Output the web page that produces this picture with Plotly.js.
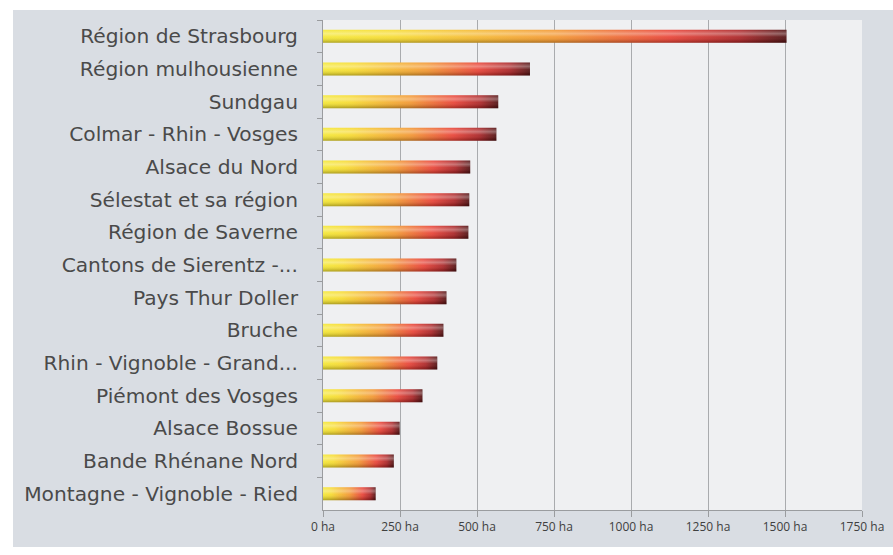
<!DOCTYPE html>
<html>
<head>
<meta charset="utf-8">
<script src="https://cdn.plot.ly/plotly-3.0.1.min.js"></script>
<style>
  html, body { margin: 0; padding: 0; background: #ffffff; width: 893px; height: 555px; overflow: hidden; }
  #chart { position: absolute; left: 13px; top: 10px; width: 880px; height: 537px; }
</style>
</head>
<body>
<div id="chart"></div>
<script>
// Regions (top to bottom as displayed)
const regions = [
  "Région de Strasbourg",
  "Région mulhousienne",
  "Sundgau",
  "Colmar - Rhin - Vosges",
  "Alsace du Nord",
  "Sélestat et sa région",
  "Région de Saverne",
  "Cantons de Sierentz -...",
  "Pays Thur Doller",
  "Bruche",
  "Rhin - Vignoble - Grand...",
  "Piémont des Vosges",
  "Alsace Bossue",
  "Bande Rhénane Nord",
  "Montagne - Vignoble - Ried"
];
// Surface in hectares
const hectares = [1505, 672, 569, 563, 478, 475, 472, 433, 401, 391, 371, 323, 249, 230, 171];
const tickValues = [0, 250, 500, 750, 1000, 1250, 1500, 1750];

const trace = {
  type: 'bar',
  orientation: 'h',
  y: regions,
  x: hectares,
  marker: { color: '#e8603a', line: { width: 0 } },
  hoverinfo: 'x+y'
};

const layout = {
  width: 880,
  height: 537,
  paper_bgcolor: '#d9dde3',
  plot_bgcolor: '#eff0f2',
  margin: { l: 310, r: 31, t: 10, b: 37 },
  bargap: 0.6,
  showlegend: false,
  font: { family: '"Open Sans", sans-serif', color: '#404040' },
  xaxis: {
    range: [0, 1750],
    tickvals: tickValues,
    ticktext: tickValues.map(v => v + ' ha'),
    showgrid: true,
    gridcolor: '#a9abae',
    gridwidth: 1,
    zeroline: false,
    showline: true,
    linecolor: '#9a9c9f',
    linewidth: 1,
    ticks: 'outside',
    ticklen: 6,
    tickcolor: '#9a9c9f',
    tickfont: { size: 12, color: '#404040', family: '"Open Sans", sans-serif' },
    fixedrange: true
  },
  yaxis: {
    type: 'category',
    autorange: 'reversed',
    showline: true,
    linecolor: '#9a9c9f',
    linewidth: 1,
    ticks: 'outside',
    tickson: 'boundaries',
    ticklen: 5,
    tickcolor: '#9a9c9f',
    showgrid: false,
    tickfont: { size: 20.2, color: '#4a4a4a', family: '"DejaVu Sans", sans-serif' },
    ticklabelstandoff: 20,
    fixedrange: true
  }
};

function styleBars() {
  const gd = document.getElementById('chart');
  const svg = gd.querySelector('svg.main-svg');
  if (!svg) return;
  const NS = 'http://www.w3.org/2000/svg';
  let defs = svg.querySelector('defs');
  if (!defs) { defs = document.createElementNS(NS, 'defs'); svg.insertBefore(defs, svg.firstChild); }
  if (!svg.querySelector('#barGrad')) {
    const g = document.createElementNS(NS, 'linearGradient');
    g.setAttribute('id', 'barGrad');
    g.setAttribute('x1', '0'); g.setAttribute('y1', '0');
    g.setAttribute('x2', '1'); g.setAttribute('y2', '0');
    [['0', '#f4e83a'], ['0.15', '#f7dc35'], ['0.5', '#f39a36'], ['0.75', '#e9473b'], ['0.9', '#ad2a2c'], ['1', '#551718']].forEach(([o, c]) => {
      const s = document.createElementNS(NS, 'stop');
      s.setAttribute('offset', o); s.setAttribute('stop-color', c);
      g.appendChild(s);
    });
    defs.appendChild(g);
    const v = document.createElementNS(NS, 'linearGradient');
    v.setAttribute('id', 'barShade');
    v.setAttribute('x1', '0'); v.setAttribute('y1', '0');
    v.setAttribute('x2', '0'); v.setAttribute('y2', '1');
    [['0', '#ffffff', '0.05'], ['0.3', '#ffffff', '0.35'], ['0.55', '#ffffff', '0.05'], ['0.85', '#000000', '0.15'], ['1', '#000000', '0.3']].forEach(([o, c, a]) => {
      const s = document.createElementNS(NS, 'stop');
      s.setAttribute('offset', o); s.setAttribute('stop-color', c); s.setAttribute('stop-opacity', a);
      v.appendChild(s);
    });
    defs.appendChild(v);
  }
  gd.querySelectorAll('.barlayer .point path').forEach(p => {
    p.style.fill = 'url(#barGrad)';
    p.style.fillOpacity = '1';
    if (!p.nextSibling || !(p.nextSibling.classList && p.nextSibling.classList.contains('shade'))) {
      const c = p.cloneNode(false);
      c.setAttribute('class', 'shade');
      c.style.fill = 'url(#barShade)';
      c.style.stroke = 'none';
      c.style.pointerEvents = 'none';
      p.parentNode.insertBefore(c, p.nextSibling);
    }
  });
}

Plotly.newPlot('chart', [trace], layout, { displayModeBar: false, staticPlot: true }).then(styleBars);
</script>
</body>
</html>
